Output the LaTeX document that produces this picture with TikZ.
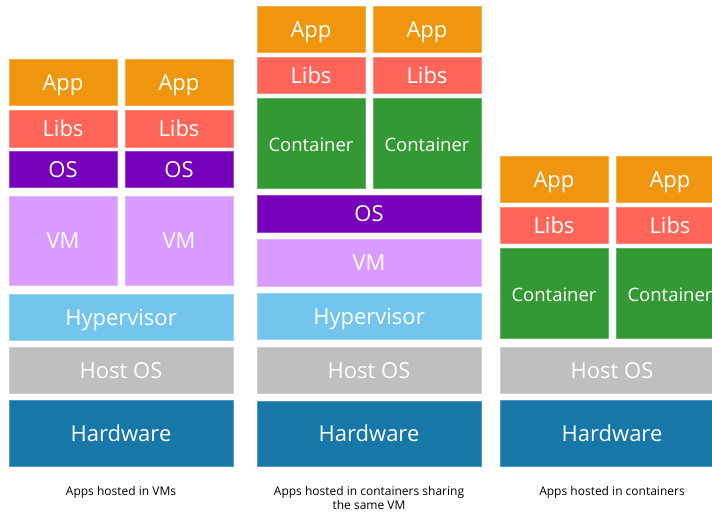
\documentclass[tikz,border=0pt]{standalone}
\usepackage{fontspec}
\setsansfont{Open Sans}
\usepackage{tikz}
\usetikzlibrary{positioning}
\definecolor{appcol}{HTML}{F0960E}
\definecolor{libscol}{HTML}{FF6659}
\definecolor{oscol}{HTML}{7700BB}
\definecolor{vmcol}{HTML}{D99BFF}
\definecolor{contcol}{HTML}{339933}
\definecolor{hypcol}{HTML}{73C5EE}
\definecolor{hostcol}{HTML}{BFBFBF}
\definecolor{hwcol}{HTML}{1777A8}
\tikzset{
x=1pt, y=1pt, % one unit is one pixel of the reference
node distance=7pt, % usual gap between two layers
stackbox/.style={fill=#1, draw=#1!75!white, line width=0.6pt, text=white, inner sep=0pt, outer sep=0pt,
  text height=16.5pt, text depth=0pt, font=\sffamily\fontsize{22}{26}\selectfont},
fullbox/.style={stackbox=#1, minimum width=224pt},
halfbox/.style={stackbox=#1, minimum width=108pt},
smalltext/.style={font=\sffamily\fontsize{18.5}{22}\selectfont},
caption/.style={align=center, font=\sffamily\fontsize{12}{14}\selectfont},
}
\begin{document}
\begin{tikzpicture}
  \useasboundingbox (0,0) rectangle (712,512);
  % apps hosted in VMs
  \node[fullbox=hwcol, minimum height=66pt, anchor=south west] (hw1) at (9,46) {Hardware};
  \node[fullbox=hostcol, minimum height=46pt, above=of hw1] (host1) {Host OS};
  \node[fullbox=hypcol, minimum height=46pt, above=of host1] (hyp1) {Hypervisor};
  \node[halfbox=vmcol, minimum height=89pt, above right=9pt and 0pt of hyp1.north west] (vm1a) {VM};
  \node[halfbox=vmcol, minimum height=89pt, above left=9pt and 0pt of hyp1.north east] (vm1b) {VM};
  \node[halfbox=oscol, minimum height=36pt, above=9pt of vm1a] (os1a) {OS};
  \node[halfbox=oscol, minimum height=36pt, above=9pt of vm1b] (os1b) {OS};
  \node[halfbox=libscol, minimum height=37pt, above=4pt of os1a] (libs1a) {Libs};
  \node[halfbox=libscol, minimum height=37pt, above=4pt of os1b] (libs1b) {Libs};
  \node[halfbox=appcol, minimum height=46pt, above=5pt of libs1a] (app1a) {App};
  \node[halfbox=appcol, minimum height=46pt, above=5pt of libs1b] (app1b) {App};
  \node[caption, below=17pt of hw1] (cap1) {Apps hosted in VMs};

  % apps in containers on one VM
  \node[fullbox=hwcol, minimum height=65pt, anchor=south west] (hw2) at (257,46) {Hardware};
  \node[fullbox=hostcol, minimum height=46pt, above=8pt of hw2] (host2) {Host OS};
  \node[fullbox=hypcol, minimum height=46pt, above=8pt of host2] (hyp2) {Hypervisor};
  \node[fullbox=vmcol, minimum height=47pt, above=of hyp2] (vm2) {VM};
  \node[fullbox=oscol, minimum height=37pt, above=of vm2] (os2) {OS};
  \node[halfbox=contcol, smalltext, minimum height=90pt, above right=7pt and 0pt of os2.north west] (cont2a) {Container};
  \node[halfbox=contcol, smalltext, minimum height=90pt, above left=7pt and 0pt of os2.north east] (cont2b) {Container};
  \node[halfbox=libscol, minimum height=36pt, above=5pt of cont2a] (libs2a) {Libs};
  \node[halfbox=libscol, minimum height=36pt, above=5pt of cont2b] (libs2b) {Libs};
  \node[halfbox=appcol, minimum height=46pt, above=5pt of libs2a] (app2a) {App};
  \node[halfbox=appcol, minimum height=46pt, above=5pt of libs2b] (app2b) {App};
  \node[caption, below=17pt of hw2] (cap2) {Apps hosted in containers sharing\\the same VM};

  % apps in containers
  \node[fullbox=hwcol, minimum height=66pt, anchor=south west] (hw3) at (500,46) {Hardware};
  \node[fullbox=hostcol, minimum height=46pt, above=of hw3] (host3) {Host OS};
  \node[halfbox=contcol, smalltext, minimum height=90pt, above right=9pt and 0pt of host3.north west] (cont3a) {Container};
  \node[halfbox=contcol, smalltext, minimum height=90pt, above left=9pt and 0pt of host3.north east] (cont3b) {Container};
  \node[halfbox=libscol, minimum height=36pt, above=5pt of cont3a] (libs3a) {Libs};
  \node[halfbox=libscol, minimum height=36pt, above=5pt of cont3b] (libs3b) {Libs};
  \node[halfbox=appcol, minimum height=46pt, above=5pt of libs3a] (app3a) {App};
  \node[halfbox=appcol, minimum height=46pt, above=5pt of libs3b] (app3b) {App};
  \node[caption, below=17pt of hw3] (cap3) {Apps hosted in containers};
\end{tikzpicture}
\end{document}
